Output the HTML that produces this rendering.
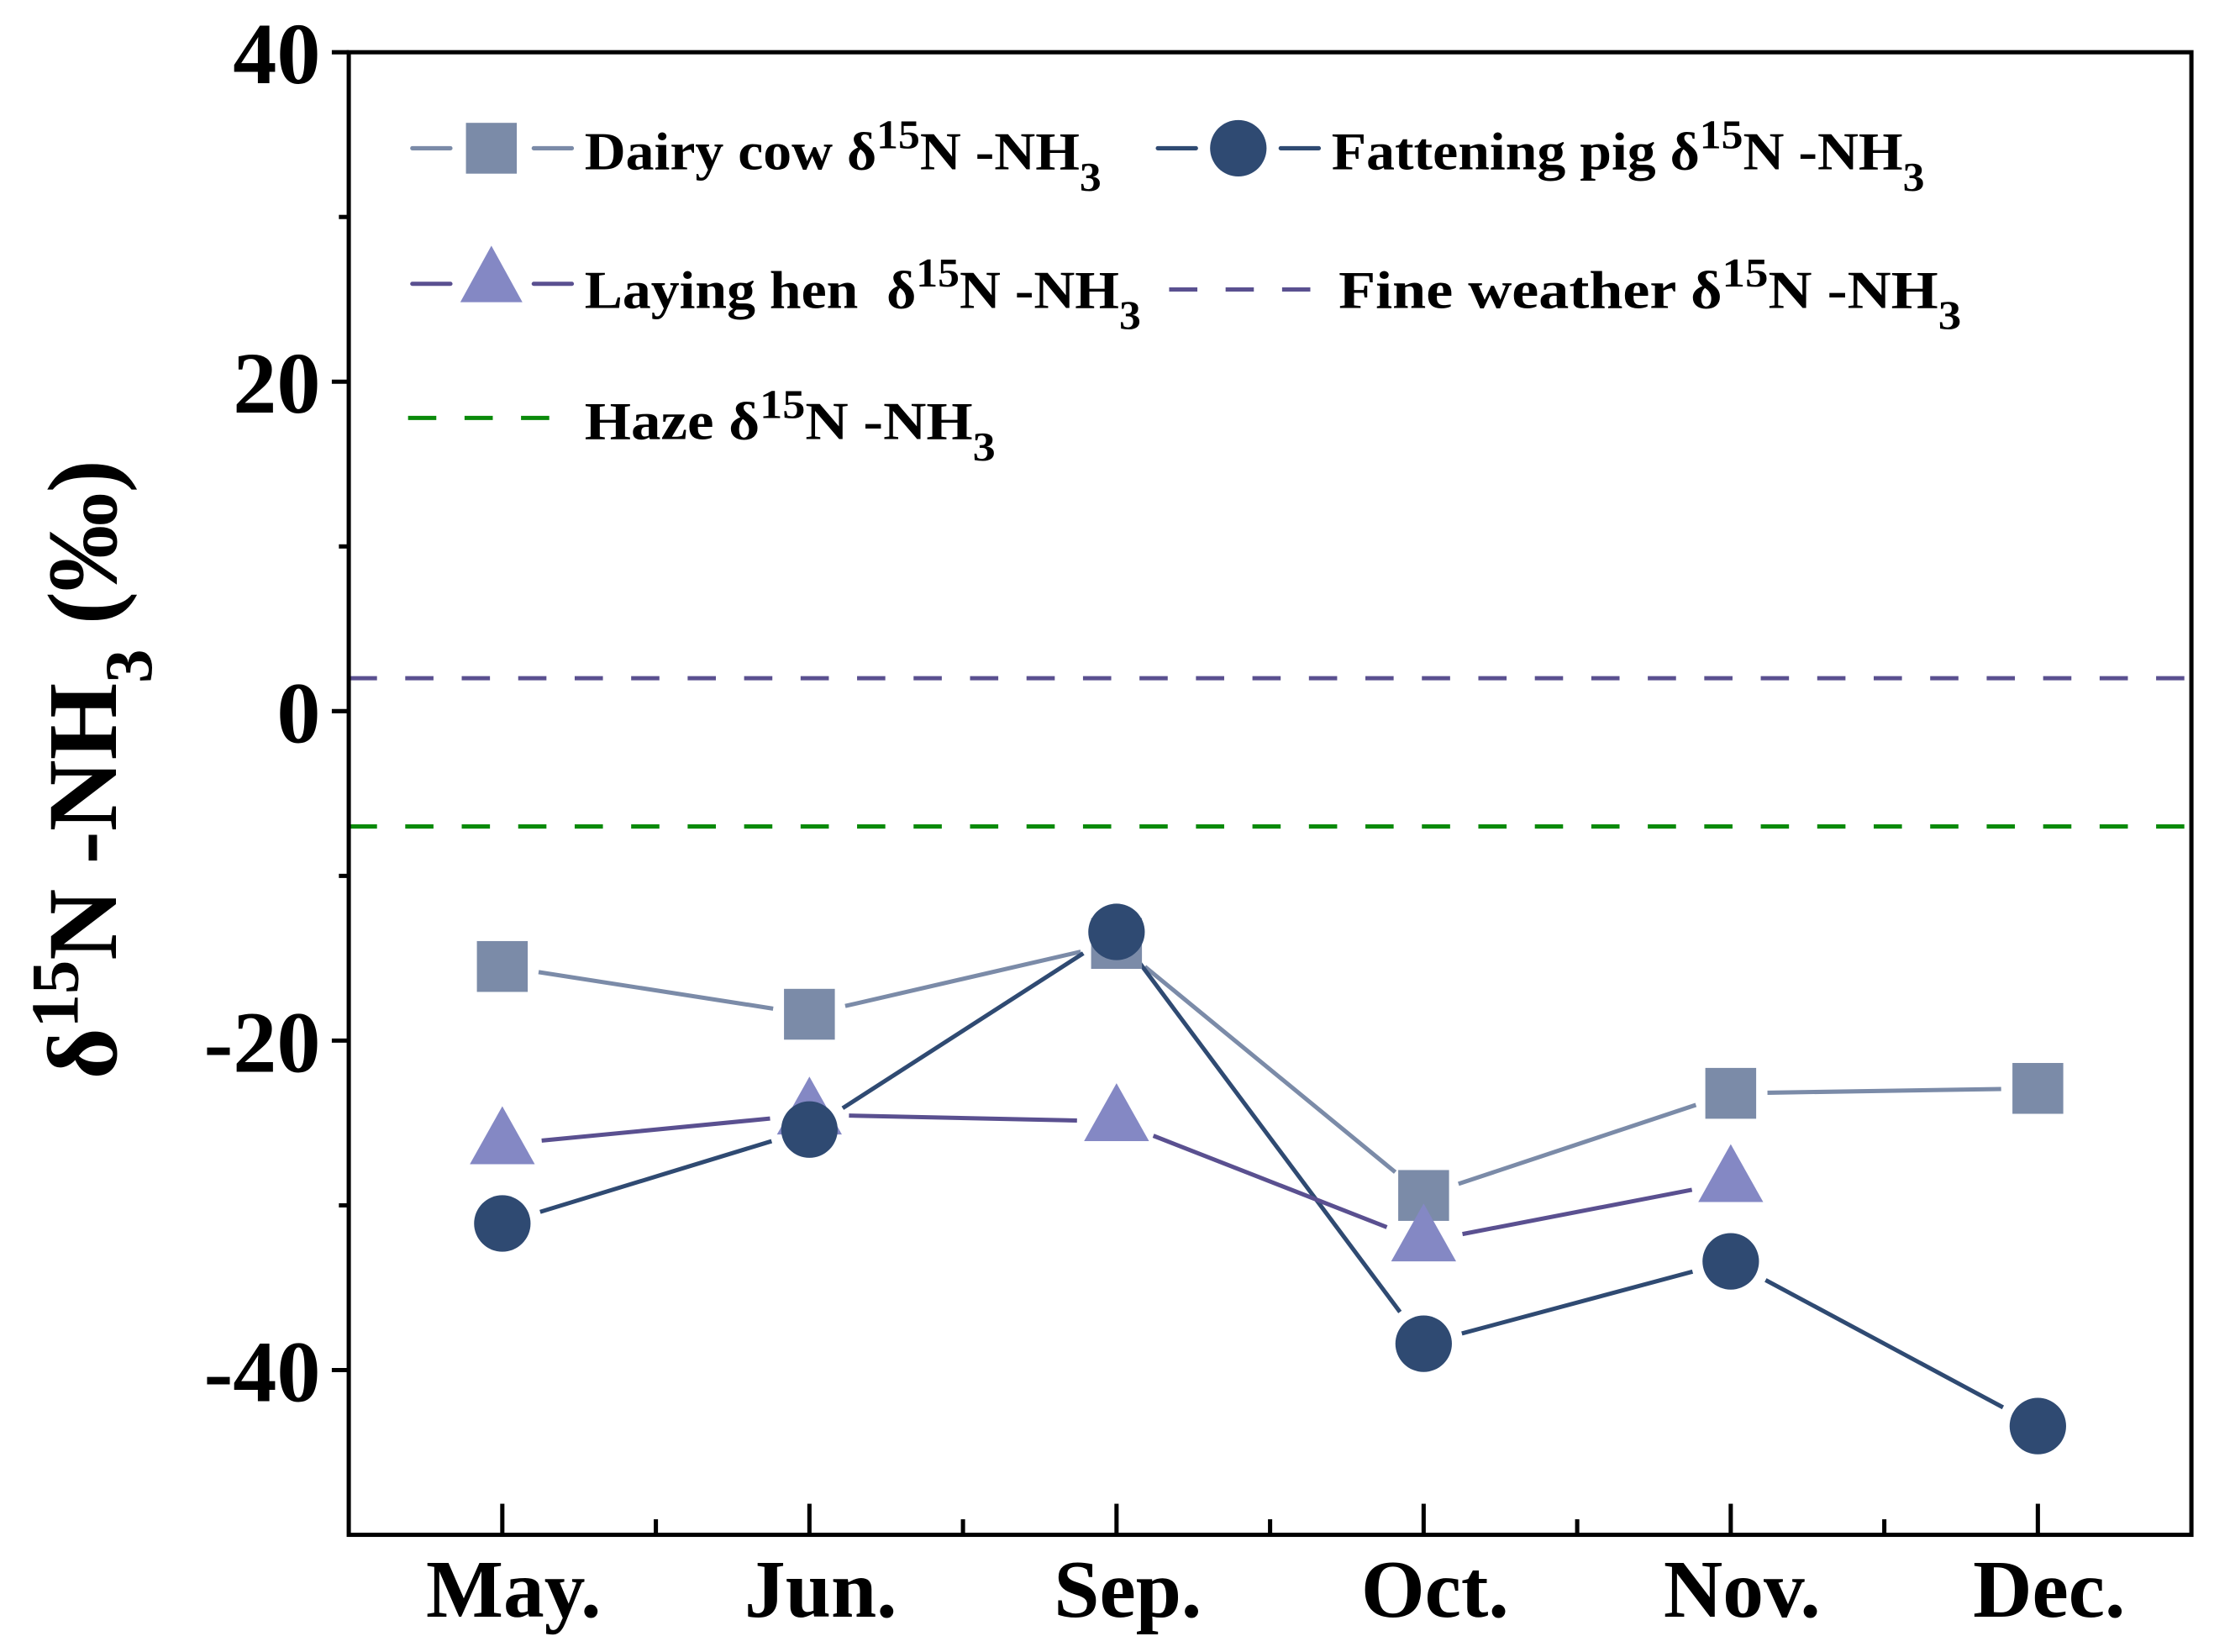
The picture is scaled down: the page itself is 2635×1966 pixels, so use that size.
<!DOCTYPE html>
<html><head><meta charset="utf-8"><style>
html,body{margin:0;padding:0;background:#fff;}
svg{display:block;}
text{font-family:"Liberation Serif",serif;font-weight:bold;fill:#000;}
</style></head><body>
<svg id="chart" width="2635" height="1966" viewBox="0 0 1568 1170" preserveAspectRatio="none" xmlns="http://www.w3.org/2000/svg">
<rect x="0" y="0" width="1568" height="1170" fill="#fff"/>
<g id="plot"></g>
<g id="legend">
  <line x1="292" y1="105" x2="405" y2="105" stroke="#7b8ba8" stroke-width="3" stroke-dasharray="27,59" stroke-linecap="round"/>
  <rect x="330" y="87" width="36" height="36" fill="#7b8ba8"/>
  <text x="414" y="120" font-size="38" textLength="366" lengthAdjust="spacingAndGlyphs">Dairy cow δ<tspan dy="-15" font-size="29">15</tspan><tspan dy="15">N -NH</tspan><tspan dy="15" font-size="29">3</tspan></text>
  <line x1="820" y1="105" x2="934" y2="105" stroke="#2f4a72" stroke-width="3" stroke-dasharray="27,60" stroke-linecap="round"/>
  <circle cx="877" cy="105" r="20" fill="#2f4a72"/>
  <text x="943" y="120" font-size="38" textLength="420" lengthAdjust="spacingAndGlyphs">Fattening pig δ<tspan dy="-15" font-size="29">15</tspan><tspan dy="15">N -NH</tspan><tspan dy="15" font-size="29">3</tspan></text>
  <line x1="292" y1="201" x2="405" y2="201" stroke="#5a5090" stroke-width="3" stroke-dasharray="27,59" stroke-linecap="round"/>
  <polygon points="348,174 370,214 326,214" fill="#8488c4"/>
  <text x="414" y="218" font-size="38" textLength="394" lengthAdjust="spacingAndGlyphs" xml:space="preserve">Laying hen  δ<tspan dy="-15" font-size="29">15</tspan><tspan dy="15">N -NH</tspan><tspan dy="15" font-size="29">3</tspan></text>
  <line x1="828" y1="205" x2="932" y2="205" stroke="#5a5090" stroke-width="3" stroke-dasharray="20,20"/>
  <text x="948" y="218" font-size="38" textLength="441" lengthAdjust="spacingAndGlyphs">Fine weather δ<tspan dy="-15" font-size="29">15</tspan><tspan dy="15">N -NH</tspan><tspan dy="15" font-size="29">3</tspan></text>
  <line x1="289" y1="296" x2="395" y2="296" stroke="#0a8a0a" stroke-width="3" stroke-dasharray="20,20"/>
  <text x="414" y="311" font-size="38" textLength="291" lengthAdjust="spacingAndGlyphs">Haze δ<tspan dy="-15" font-size="29">15</tspan><tspan dy="15">N -NH</tspan><tspan dy="15" font-size="29">3</tspan></text>
</g>
<text transform="translate(82,545) rotate(-90)" text-anchor="middle" font-size="70">δ<tspan dy="-27" font-size="48">15</tspan><tspan dy="27">N -NH</tspan><tspan dy="25" font-size="48">3</tspan><tspan dy="-25"> (‰)</tspan></text>
</svg>
<script>
const categories=["May.","Jun.","Sep.","Oct.","Nov.","Dec."];
const dairy=[-15.5,-18.4,-14.1,-29.4,-23.2,-22.9];
const pig=[-31.1,-25.4,-13.4,-38.4,-33.4,-43.4];
const pigErr=[0.3,0.4,0.6,1.3,0.4,1.2];
const hen=[-26.3,-24.5,-24.9,-32.2,-28.6,null];
const fineWeather=2.0;
const haze=-7.0;
const yTicks=[-40,-20,0,20,40];
const yMinor=[-30,-10,10,30];
const NS="http://www.w3.org/2000/svg";
const L=247,R=1552,T=37,B=1087;
function xs(i){return L+(i+0.5)*(R-L)/6;}
function ys(v){return B-(v+50)*(B-T)/90;}
const g=document.getElementById('plot');
function el(tag,attrs,parent){const e=document.createElementNS(NS,tag);for(const k in attrs)e.setAttribute(k,attrs[k]);(parent||g).appendChild(e);return e;}
let e=el('line',{x1:L,x2:R,y1:ys(fineWeather),y2:ys(fineWeather),stroke:'#5a5090','stroke-width':3,'stroke-dasharray':'20,20'});


e=el('line',{x1:L,x2:R,y1:ys(haze),y2:ys(haze),stroke:'#0a8a0a','stroke-width':3,'stroke-dasharray':'20,20'});


function seriesLines(vals,color,name,gap){
  for(let i=0;i<vals.length-1;i++){
    if(vals[i]==null||vals[i+1]==null)continue;
    const x1=xs(i),y1=ys(vals[i]),x2=xs(i+1),y2=ys(vals[i+1]);
    const dx=x2-x1,dy=y2-y1,d=Math.hypot(dx,dy),ux=dx/d,uy=dy/d;
    const s=el('line',{x1:x1+ux*gap,y1:y1+uy*gap,x2:x2-ux*gap,y2:y2-uy*gap,stroke:color,'stroke-width':3});
    
    
  }
}
seriesLines(dairy,'#7b8ba8','dairy',26);
seriesLines(pig,'#2f4a72','pig',28);
seriesLines(hen,'#5a5090','hen',28);
dairy.forEach((v,i)=>{const m=el('rect',{x:xs(i)-18,y:ys(v)-18,width:36,height:36,fill:'#7b8ba8'});

});
hen.forEach((v,i)=>{if(v==null)return;const x=xs(i),y=ys(v);const m=el('polygon',{points:`${x},${y-27} ${x+23},${y+14} ${x-23},${y+14}`,fill:'#8488c4'});

});
pig.forEach((v,i)=>{const x=xs(i);
const eb=el('path',{d:`M${x},${ys(v+pigErr[i])}V${ys(v-pigErr[i])}M${x-6},${ys(v+pigErr[i])}H${x+6}M${x-6},${ys(v-pigErr[i])}H${x+6}`,stroke:'#2f4a72','stroke-width':2,fill:'none'});


const m=el('circle',{cx:x,cy:ys(v),r:20,fill:'#2f4a72'});

});
e=el('rect',{x:L,y:T,width:R-L,height:B-T,fill:'none',stroke:'#000','stroke-width':3});


yTicks.forEach(v=>{const y=ys(v);el('line',{x1:L-12,x2:L,y1:y,y2:y,stroke:'#000','stroke-width':3});
const t=el('text',{x:L-20,y:y+22,'text-anchor':'end','font-size':62});t.textContent=v;

});
yMinor.forEach(v=>{const y=ys(v);el('line',{x1:L-7,x2:L,y1:y,y2:y,stroke:'#000','stroke-width':3});});
categories.forEach((c,i)=>{const x=xs(i);el('line',{x1:x,x2:x,y1:B,y2:B-22,stroke:'#000','stroke-width':3});
if(i<categories.length-1){const xm=(x+xs(i+1))/2;el('line',{x1:xm,x2:xm,y1:B,y2:B-11,stroke:'#000','stroke-width':3});}
const t=el('text',{x:x+8,y:B+58,'text-anchor':'middle','font-size':58});t.textContent=c;

});
</script>
</body></html>
